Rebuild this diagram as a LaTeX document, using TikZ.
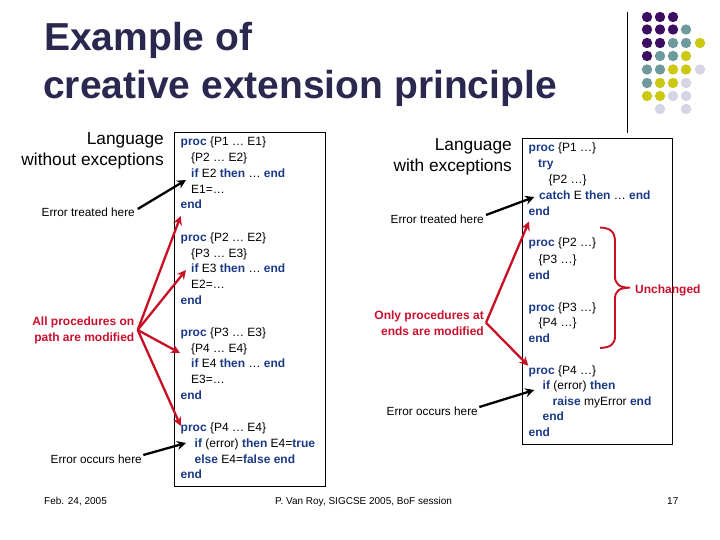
\documentclass[tikz,border=0pt]{standalone}
\usepackage{fontspec}
\setmainfont{Liberation Sans}
\usetikzlibrary{arrows.meta}
\definecolor{titlecol}{HTML}{2B2850}
\definecolor{kwcol}{HTML}{1A3A86}
\definecolor{redcol}{HTML}{C8102E}
\definecolor{arrred}{HTML}{C81025}
\definecolor{dotP}{HTML}{3C0F63}
\definecolor{dotT}{HTML}{6E9A9E}
\definecolor{dotY}{HTML}{CCC814}
\definecolor{dotL}{HTML}{D5D5E6}
\newcommand{\kw}[1]{{\bfseries\color{kwcol}#1}}
\tikzset{
  titletxt/.style={anchor=base west,inner sep=0,text=titlecol,font=\fontsize{39}{39}\selectfont\bfseries},
  headtxt/.style={anchor=base east,inner sep=0,font=\fontsize{17.3}{18}\selectfont},
  code/.style={anchor=base west,inner sep=0,font=\fontsize{12}{12}\selectfont},
  note/.style={anchor=base east,inner sep=0,font=\fontsize{11.8}{12}\selectfont},
  rednote/.style={note,text=redcol,font=\fontsize{12}{12}\selectfont\bfseries},
  foot/.style={anchor=base west,inner sep=0,font=\fontsize{10}{10}\selectfont},
  codebox/.style={draw=black,line width=0.9pt,fill=none,inner sep=0},
  blackarrow/.style={draw=black,line width=2.3pt,-{Stealth[length=9pt,width=9pt]}},
  redarrow/.style={draw=arrred,line width=2.3pt,-{Stealth[length=9pt,width=9pt]}},
  dot/.style={circle,inner sep=0,minimum size=10.4pt,draw=none},
  x=1pt,y=-1pt
}
\begin{document}
\begin{tikzpicture}
\useasboundingbox (0,0) rectangle (720,540);
% title
\node[titletxt] (t1) at (44,51) {Example of};
\node[titletxt] (t2) at (43,99) {creative extension principle};
% decoration
\draw[line width=0.9pt] (627.5,12) -- (627.5,133);
\foreach \x/\y/\c in {647/17/dotP,660/17/dotP,673/17/dotP,
 647/29.5/dotP,660/29.5/dotP,673/29.5/dotP,686/29.5/dotT,
 647/43/dotP,660/43/dotP,673/43/dotT,686/43/dotT,700/43/dotY,
 647/56/dotP,660/56/dotT,673/56/dotT,686/56/dotY,
 647/69.5/dotT,660/69.5/dotT,673/69.5/dotY,686/69.5/dotY,700/69.5/dotL,
 647/83/dotT,660/83/dotY,673/83/dotY,686/83/dotL,
 647/96/dotY,660/96/dotY,673/96/dotL,686/96/dotL,
 660/109/dotL,686/109/dotL}
  \node[dot,fill=\c] at (\x,\y) {};
% boxes
\draw[codebox] (174.5,132.5) rectangle (325,486);
\draw[codebox] (522.5,138.5) rectangle (672.5,444);
% left headings
\node[headtxt] (h1) at (164,144.5) {Language};
\node[headtxt] (h2) at (164,165.5) {without exceptions};
\node[note] (etl) at (135,217) {Error treated here};
\node[rednote] (apl1) at (134.5,325) {All procedures on};
\node[rednote] (apl2) at (134.5,341) {path are modified};
\node[note] (eol) at (142,463) {Error occurs here};
% left code
\node[code] at (180.5,146) {\kw{proc} \{P1 … E1\}};
\node[code] at (191,162) {\{P2 … E2\}};
\node[code] at (191,177.5) {\kw{if} E2 \kw{then} … \kw{end}};
\node[code] at (191,193.5) {E1=…};
\node[code] at (180.5,209) {\kw{end}};
\node[code] at (180.5,241) {\kw{proc} \{P2 … E2\}};
\node[code] at (191,257) {\{P3 … E3\}};
\node[code] at (191,272.5) {\kw{if} E3 \kw{then} … \kw{end}};
\node[code] at (191,288.5) {E2=…};
\node[code] at (180.5,304) {\kw{end}};
\node[code] at (180.5,336) {\kw{proc} \{P3 … E3\}};
\node[code] at (191,352) {\{P4 … E4\}};
\node[code] at (191,367.5) {\kw{if} E4 \kw{then} … \kw{end}};
\node[code] at (191,383.5) {E3=…};
\node[code] at (180.5,399) {\kw{end}};
\node[code] at (180.5,431) {\kw{proc} \{P4 … E4\}};
\node[code] at (194.5,447) {\kw{if} (error) \kw{then} E4=\kw{true}};
\node[code] at (194.5,463) {\kw{else} E4=\kw{false} \kw{end}};
\node[code] at (180.5,478.5) {\kw{end}};
% right headings
\node[headtxt] (h3) at (512,150.5) {Language};
\node[headtxt] (h4) at (512,171.5) {with exceptions};
\node[note] (etr) at (484,223) {Error treated here};
\node[rednote] (opr1) at (484,319) {Only procedures at};
\node[rednote] (opr2) at (484,335) {ends are modified};
\node[note] (eor) at (478,415) {Error occurs here};
\node[anchor=base west,inner sep=0,text=redcol,font=\fontsize{12}{12}\selectfont\bfseries] (unch) at (635,293.5) {Unchanged};
% right code
\node[code] at (528.5,152) {\kw{proc} \{P1 …\}};
\node[code] at (538,167.5) {\kw{try}};
\node[code] at (548.5,184) {\{P2 …\}};
\node[code] at (539,199.5) {\kw{catch} E \kw{then} … \kw{end}};
\node[code] at (528.5,215) {\kw{end}};
\node[code] at (528.5,247) {\kw{proc} \{P2 …\}};
\node[code] at (538.5,263) {\{P3 …\}};
\node[code] at (528.5,279) {\kw{end}};
\node[code] at (528.5,311) {\kw{proc} \{P3 …\}};
\node[code] at (538.5,326) {\{P4 …\}};
\node[code] at (528.5,342) {\kw{end}};
\node[code] at (528.5,374) {\kw{proc} \{P4 …\}};
\node[code] at (542.5,389) {\kw{if} (error) \kw{then}};
\node[code] at (552.5,405) {\kw{raise} myError \kw{end}};
\node[code] at (542.5,420.5) {\kw{end}};
\node[code] at (528.5,436.5) {\kw{end}};
% footers
\node[foot] (f1) at (44,504.5) {Feb. 24, 2005};
\node[foot] (f2) at (275,504.5) {P. Van Roy, SIGCSE 2005, BoF session};
\node[foot] (f3) at (667,504.5) {17};
% connector anchors
\coordinate (tipEt) at (186,180);
\coordinate (tipEo) at (186,443);
\coordinate (tipA) at (180.7,216);
\coordinate (tipB) at (186,270);
\coordinate (tipC) at (180,353);
\coordinate (tipD) at (180.7,426);
\coordinate (tipRt) at (534.3,197);
\coordinate (tipRo) at (534.3,390);
\coordinate (tipU) at (529,221.5);
\coordinate (tipV) at (528.3,365.7);
\coordinate (hubL) at (137.7,330);
\coordinate (hubR) at (486,322.7);
\coordinate (st1) at (137.7,209);
\coordinate (st2) at (143.3,455);
\coordinate (st3) at (486,215);
\coordinate (st4) at (479.3,407);
% connectors
\draw[blackarrow] (st1) -- (tipEt);
\draw[blackarrow] (st2) -- (tipEo);
\draw[blackarrow] (st3) -- (tipRt);
\draw[blackarrow] (st4) -- (tipRo);
\draw[redarrow] (hubL) -- (tipA);
\draw[redarrow] (hubL) -- (tipB);
\draw[redarrow] (hubL) -- (tipC);
\draw[redarrow] (hubL) -- (tipD);
\draw[redarrow] (hubR) -- (tipU);
\draw[redarrow] (hubR) -- (tipV);
% brace
\draw[draw=arrred,line width=1.9pt] (600,227.5) .. controls (611,228) and (615,232) .. (615,242)
  -- (615,276) .. controls (615,284) and (619,287.7) .. (630,287.7)
  .. controls (619,287.7) and (615,291) .. (615,299)
  -- (615,336) .. controls (615,344) and (611,347.5) .. (600,348);
\end{tikzpicture}
\end{document}
